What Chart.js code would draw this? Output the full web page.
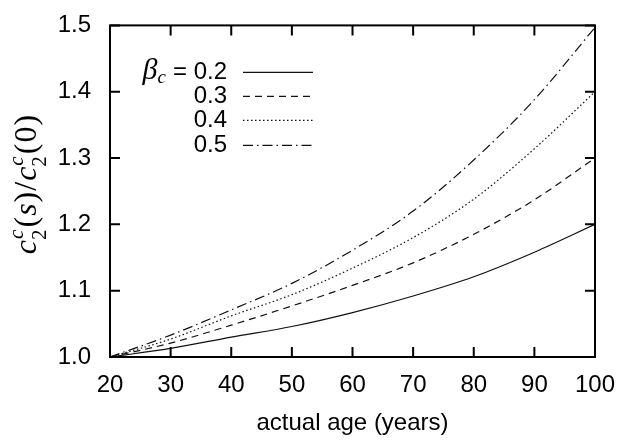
<!DOCTYPE html>
<html lang="en">
<head>
<meta charset="UTF-8">
<title>c2 ratio vs actual age</title>
<script src="https://cdn.jsdelivr.net/npm/chart.js"></script>
<style>
  html, body { margin: 0; padding: 0; background: #fff; }
</style>
</head>
<body>
<canvas id="ratioChart" width="629" height="443"></canvas>
<script>
// data
const ages = [20, 30, 40, 50, 60, 70, 80, 90, 100];
const beta02 = [1.000, 1.013, 1.030, 1.046, 1.067, 1.092, 1.121, 1.158, 1.200];
const beta03 = [1.000, 1.021, 1.048, 1.077, 1.108, 1.142, 1.185, 1.237, 1.300];
const beta04 = [1.000, 1.027, 1.062, 1.094, 1.134, 1.180, 1.238, 1.314, 1.400];
const beta05 = [1.000, 1.033, 1.071, 1.111, 1.161, 1.220, 1.297, 1.388, 1.497];
const betaLabels = ['0.2', '0.3', '0.4', '0.5'];
const xTicks = [20, 30, 40, 50, 60, 70, 80, 90, 100];
const yTicks = [1.0, 1.1, 1.2, 1.3, 1.4, 1.5];

const SANS = '"Liberation Sans", Arial, sans-serif';
const SERIF = '"Liberation Serif", "Times New Roman", serif';
const dashes = [[], [7, 5], [1.5, 2.5], [10, 4, 1.5, 4]];

function series(vals, i) {
  return {
    label: betaLabels[i],
    data: ages.map((a, k) => ({ x: a, y: vals[k] })),
    borderColor: '#111',
    borderWidth: 1.2,
    borderDash: dashes[i],
    pointRadius: 0,
    fill: false,
    cubicInterpolationMode: 'monotone'
  };
}

// box round the plot with inward ticks on all four sides
const framePlugin = {
  id: 'frame',
  afterDatasetsDraw(chart) {
    const { ctx, chartArea: a, scales: { x, y } } = chart;
    const len = 10;
    ctx.save();
    ctx.strokeStyle = '#000';
    ctx.lineWidth = 2;
    ctx.strokeRect(a.left, a.top, a.right - a.left, a.bottom - a.top);
    ctx.beginPath();
    xTicks.forEach(v => {
      const px = x.getPixelForValue(v);
      ctx.moveTo(px, a.bottom); ctx.lineTo(px, a.bottom - len);
      ctx.moveTo(px, a.top); ctx.lineTo(px, a.top + len);
    });
    yTicks.forEach(v => {
      const py = y.getPixelForValue(v);
      ctx.moveTo(a.left, py); ctx.lineTo(a.left + len, py);
      ctx.moveTo(a.right, py); ctx.lineTo(a.right - len, py);
    });
    ctx.stroke();
    ctx.restore();
  }
};

// legend in the upper left: beta_c = 0.2 ... with line samples
const legendPlugin = {
  id: 'betaLegend',
  afterDraw(chart) {
    const { ctx, chartArea: a } = chart;
    const textRight = a.left + 117;
    const x0 = a.left + 133, x1 = a.left + 203;
    const rows = [47, 71, 95, 120];
    ctx.save();
    ctx.fillStyle = '#000';
    chart.data.datasets.forEach((ds, i) => {
      const yy = a.top + rows[i];
      ctx.font = '24px ' + SANS;
      ctx.textAlign = 'right';
      ctx.textBaseline = 'middle';
      const txt = i === 0 ? '= ' + ds.label : ds.label;
      ctx.fillText(txt, textRight, yy);
      if (i === 0) {
        const eqLeft = textRight - ctx.measureText(txt).width;
        ctx.textAlign = 'left';
        ctx.textBaseline = 'alphabetic';
        ctx.font = 'italic 19px ' + SERIF;
        const cw = ctx.measureText('c').width;
        ctx.font = 'italic 30px ' + SERIF;
        const bw = ctx.measureText('\u03B2').width;
        const bx = eqLeft - 7 - cw - bw;
        ctx.fillText('\u03B2', bx, yy + 7);
        ctx.font = 'italic 19px ' + SERIF;
        ctx.fillText('c', bx + bw, yy + 11);
      }
      ctx.strokeStyle = '#111';
      ctx.lineWidth = 1.2;
      ctx.setLineDash(ds.borderDash);
      ctx.beginPath();
      ctx.moveTo(x0, yy); ctx.lineTo(x1, yy);
      ctx.stroke();
    });
    ctx.restore();
  }
};

// rotated y title  c_2^c(s)/c_2^c(0)
const yTitlePlugin = {
  id: 'yTitle',
  afterDraw(chart) {
    const ctx = chart.ctx;
    const size = 32, small = 21;
    const parts = [
      { t: 'c', it: true }, { script: true }, { t: '(' }, { t: 's', it: true }, { t: ')' },
      { t: '/' }, { t: 'c', it: true }, { script: true }, { t: '(' }, { t: '0' }, { t: ')' }
    ];
    const big = it => (it ? 'italic ' : '') + size + 'px ' + SERIF;
    ctx.save();
    let total = 0;
    parts.forEach(p => {
      if (p.script) {
        ctx.font = small + 'px ' + SERIF;
        p.w = ctx.measureText('2').width + 1;
      } else {
        ctx.font = big(p.it);
        p.w = ctx.measureText(p.t).width + 1;
      }
      total += p.w;
    });
    ctx.translate(36, 184);
    ctx.rotate(-Math.PI / 2);
    ctx.fillStyle = '#000';
    ctx.textBaseline = 'alphabetic';
    ctx.textAlign = 'left';
    let cx = -total / 2;
    parts.forEach(p => {
      if (p.script) {
        ctx.font = 'italic ' + small + 'px ' + SERIF;
        ctx.fillText('c', cx, -size * 0.42);
        ctx.font = small + 'px ' + SERIF;
        ctx.fillText('2', cx - 1, size * 0.3);
      } else {
        ctx.font = big(p.it);
        ctx.fillText(p.t, cx, 0);
      }
      cx += p.w;
    });
    ctx.restore();
  }
};

new Chart(document.getElementById('ratioChart'), {
  type: 'line',
  data: {
    datasets: [series(beta02, 0), series(beta03, 1), series(beta04, 2), series(beta05, 3)]
  },
  options: {
    responsive: false,
    animation: false,
    layout: { padding: { left: 0, top: 19, right: 34, bottom: 0 } },
    plugins: { legend: { display: false }, tooltip: { enabled: false } },
    scales: {
      x: {
        type: 'linear',
        min: 20, max: 100,
        afterFit: s => { s.height = 86; },
        grid: { display: false },
        border: { display: false },
        ticks: {
          stepSize: 10,
          padding: 6,
          color: '#000',
          font: { family: SANS, size: 24 },
          maxRotation: 0
        },
        title: {
          display: true,
          text: 'actual age (years)',
          color: '#000',
          font: { family: SANS, size: 24 },
          padding: { top: 0, bottom: 5 }
        }
      },
      y: {
        min: 1.0, max: 1.5,
        afterFit: s => { s.width = 110; },
        grid: { display: false },
        border: { display: false },
        ticks: {
          stepSize: 0.1,
          padding: 11,
          color: '#000',
          font: { family: SANS, size: 24 },
          callback: v => v.toFixed(1)
        }
      }
    }
  },
  plugins: [framePlugin, legendPlugin, yTitlePlugin]
});
</script>
</body>
</html>
